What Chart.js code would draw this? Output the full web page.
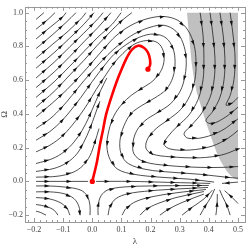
<!DOCTYPE html>
<html>
<head>
<meta charset="utf-8">
<script src="https://cdn.jsdelivr.net/npm/chart.js@4.4.0/dist/chart.umd.min.js"></script>
<style>
html, body { margin: 0; padding: 0; background: #fff; }
</style>
</head>
<body>
<canvas id="streamChart" width="249" height="248"></canvas>
<script>
// tick labels
const xTicks = [-0.2, -0.1, 0.0, 0.1, 0.2, 0.3, 0.4, 0.5];
const yTicks = [-0.2, 0.0, 0.2, 0.4, 0.6, 0.8, 1.0];

// red trajectory (lambda, Omega)
const redPath = [[0.0,0.0],[0.016,0.117],[0.026,0.215],[0.037,0.308],[0.047,0.394],[0.064,0.492],[0.081,0.579],[0.098,0.654],[0.119,0.735],[0.136,0.781],[0.157,0.804],[0.177,0.792],[0.191,0.763],[0.198,0.723],[0.198,0.688],[0.191,0.665]];
const redEnds = [[0.0,0.0],[0.191,0.665]];

// shaded region
const grayRegion = [[0.325,1.0],[0.330,0.9],[0.335,0.809],[0.341,0.70],[0.349,0.607],[0.358,0.53],[0.370,0.463],[0.381,0.40],[0.393,0.336],[0.405,0.275],[0.417,0.215],[0.427,0.17],[0.438,0.129],[0.450,0.092],[0.462,0.060],[0.474,0.037],[0.486,0.019],[0.5,0.008],[0.5,1.0]];

// streamlines (points listed in flow order)
const upperLeftLines = [
  [[-0.193,0.960],[-0.166,1.0]],
  [[-0.193,0.902],[-0.152,0.960],[-0.128,1.0]],
  [[-0.193,0.844],[-0.145,0.913],[-0.104,0.971],[-0.090,1.0]],
  [[-0.193,0.787],[-0.138,0.867],[-0.090,0.942],[-0.056,1.0]],
  [[-0.193,0.729],[-0.138,0.810],[-0.083,0.890],[-0.035,0.971],[-0.022,1.0]],
  [[-0.193,0.671],[-0.131,0.763],[-0.077,0.850],[-0.029,0.931],[0.006,1.0]],
  [[-0.193,0.613],[-0.131,0.706],[-0.077,0.798],[-0.029,0.879],[0.020,0.965],[0.037,1.0]],
  [[-0.193,0.556],[-0.131,0.648],[-0.077,0.740],[-0.029,0.827],[0.020,0.913],[0.064,1.0]],
  [[-0.193,0.498],[-0.131,0.590],[-0.077,0.683],[-0.029,0.769],[0.020,0.856],[0.068,0.931],[0.099,1.0]],
  [[-0.193,0.440],[-0.131,0.533],[-0.077,0.631],[-0.029,0.717],[0.016,0.804],[0.061,0.885],[0.102,0.954],[0.136,1.0]]
];

const vortexLines = [
  [[-0.193,0.383],[-0.138,0.463],[-0.087,0.544],[-0.039,0.631],[0.002,0.711],[0.040,0.787],[0.081,0.862],[0.133,0.925],[0.191,0.965],[0.246,0.977],[0.294,0.954],[0.328,0.896],[0.349,0.810],[0.356,0.706],[0.352,0.602],[0.335,0.509],[0.305,0.429],[0.260,0.365],[0.219,0.313],[0.191,0.256],[0.184,0.198],[0.205,0.163],[0.267,0.146],[0.370,0.140],[0.445,0.157],[0.5,0.192]],
  [[-0.193,0.313],[-0.145,0.371],[-0.104,0.440],[-0.070,0.509],[-0.029,0.596],[0.016,0.683],[0.054,0.752],[0.095,0.815],[0.143,0.873],[0.198,0.913],[0.246,0.925],[0.287,0.890],[0.311,0.821],[0.322,0.729],[0.318,0.625],[0.301,0.533],[0.267,0.458],[0.222,0.406],[0.181,0.360],[0.153,0.302],[0.140,0.233],[0.143,0.163],[0.177,0.117],[0.260,0.094],[0.370,0.083],[0.445,0.083],[0.5,0.088]],
  [[-0.193,0.244],[-0.145,0.296],[-0.104,0.360],[-0.070,0.429],[-0.039,0.498],[-0.001,0.590],[0.040,0.683],[0.074,0.752],[0.116,0.810],[0.164,0.856],[0.212,0.873],[0.253,0.850],[0.277,0.787],[0.284,0.706],[0.277,0.619],[0.253,0.544],[0.212,0.492],[0.170,0.450],[0.133,0.402],[0.109,0.331],[0.095,0.244],[0.099,0.163],[0.123,0.106],[0.184,0.071],[0.274,0.054],[0.370,0.042],[0.459,0.025],[0.5,0.019]],
  [[-0.193,0.175],[-0.145,0.215],[-0.104,0.267],[-0.070,0.331],[-0.042,0.394],[-0.015,0.463],[0.013,0.544],[0.044,0.625],[0.074,0.700],[0.105,0.758],[0.143,0.812],[0.188,0.835],[0.224,0.822],[0.243,0.775],[0.246,0.712],[0.234,0.650],[0.208,0.596],[0.174,0.556],[0.136,0.513],[0.102,0.458],[0.074,0.388],[0.057,0.302],[0.050,0.209],[0.061,0.129],[0.088,0.071],[0.143,0.042],[0.232,0.025],[0.335,0.013],[0.418,-0.004]],
  [[-0.193,0.106],[-0.138,0.134],[-0.097,0.175],[-0.063,0.233],[-0.035,0.302],[-0.011,0.383],[0.009,0.463],[0.030,0.544],[0.050,0.613]],
  [[-0.193,0.059],[-0.131,0.077],[-0.087,0.111],[-0.053,0.163],[-0.029,0.233],[-0.008,0.313],[0.009,0.394],[0.026,0.475]],
  [[-0.193,0.025],[-0.118,0.031],[-0.066,0.054],[-0.032,0.094],[-0.008,0.152],[0.009,0.233],[0.023,0.313]]
];

const hairpinLines = [
  [[0.370,1.0],[0.380,0.867],[0.383,0.729],[0.380,0.602],[0.363,0.486],[0.332,0.394],[0.291,0.325],[0.260,0.267],[0.246,0.221],[0.267,0.192],[0.335,0.186],[0.411,0.209],[0.466,0.256],[0.5,0.302]],
  [[0.404,1.0],[0.414,0.867],[0.421,0.729],[0.418,0.602],[0.404,0.498],[0.376,0.406],[0.342,0.336],[0.315,0.284],[0.328,0.256],[0.383,0.261],[0.445,0.302],[0.5,0.371]],
  [[0.438,1.0],[0.449,0.867],[0.455,0.729],[0.452,0.602],[0.438,0.498],[0.414,0.417],[0.390,0.360],[0.411,0.342],[0.459,0.383],[0.5,0.440]],
  [[0.473,1.0],[0.483,0.867],[0.490,0.729],[0.486,0.602],[0.473,0.509],[0.459,0.452],[0.479,0.463],[0.5,0.498]]
];

const axisLines = [
  [[-0.193,0.0],[-0.111,0.0],[-0.015,0.0]],
  [[0.013,0.0],[0.129,0.0],[0.267,-0.006],[0.405,-0.012]],
  [[0.5,-0.004],[0.473,-0.008],[0.445,-0.012]]
];

const bottomLines = [
  [[-0.193,-0.027],[-0.152,-0.027],[-0.097,-0.033],[-0.042,-0.050],[-0.018,-0.085],[-0.008,-0.143],[-0.008,-0.2]],
  [[-0.193,-0.062],[-0.145,-0.062],[-0.097,-0.073],[-0.063,-0.102],[-0.046,-0.148],[-0.042,-0.2]],
  [[-0.193,-0.096],[-0.152,-0.102],[-0.111,-0.125],[-0.087,-0.160],[-0.077,-0.2]],
  [[-0.193,-0.137],[-0.159,-0.148],[-0.131,-0.171],[-0.118,-0.2]],
  [[-0.193,-0.177],[-0.179,-0.183],[-0.159,-0.2]],
  [[0.020,-0.2],[0.020,-0.143],[0.030,-0.085],[0.054,-0.050],[0.109,-0.033],[0.198,-0.027],[0.301,-0.025],[0.400,-0.024]],
  [[0.054,-0.2],[0.061,-0.148],[0.081,-0.102],[0.123,-0.073],[0.198,-0.056],[0.301,-0.044],[0.397,-0.036]],
  [[0.102,-0.2],[0.116,-0.160],[0.150,-0.119],[0.205,-0.091],[0.287,-0.068],[0.390,-0.048]],
  [[0.164,-0.2],[0.184,-0.166],[0.225,-0.131],[0.287,-0.096],[0.383,-0.060]],
  [[0.232,-0.2],[0.260,-0.166],[0.308,-0.125],[0.383,-0.075]],
  [[0.308,-0.2],[0.342,-0.154],[0.383,-0.104],[0.412,-0.052]],
  [[0.370,-0.2],[0.387,-0.148],[0.407,-0.094],[0.420,-0.045]],
  [[0.424,-0.2],[0.428,-0.143],[0.429,-0.075]],
  [[0.473,-0.2],[0.462,-0.143],[0.447,-0.091],[0.437,-0.050]],
  [[0.5,-0.131],[0.479,-0.094],[0.454,-0.055]]
];

const streamGroups = [upperLeftLines, vortexLines, hairpinLines, axisLines, bottomLines];

const toXY = arr => arr.map(p => ({ x: p[0], y: p[1] }));

const datasets = [];
datasets.push({
  data: toXY(grayRegion),
  showLine: true,
  fill: 'shape',
  backgroundColor: 'rgb(192,192,192)',
  borderWidth: 0,
  pointRadius: 0,
  tension: 0,
  order: 10
});
streamGroups.forEach(group => {
  group.forEach(line => {
    datasets.push({
      data: toXY(line),
      showLine: true,
      fill: false,
      borderColor: '#222',
      borderWidth: 0.8,
      pointRadius: 0,
      tension: 0.35,
      stream: true,
      order: 5
    });
  });
});
datasets.push({
  data: toXY(redPath),
  showLine: true,
  fill: false,
  borderColor: '#ff0000',
  borderWidth: 2.6,
  pointRadius: 0,
  tension: 0.35,
  order: 1
});
datasets.push({
  data: toXY(redEnds),
  showLine: false,
  pointRadius: 2.6,
  pointBackgroundColor: '#ff0000',
  pointBorderWidth: 0,
  order: 0
});

// arrowheads along streamlines
const arrowPlugin = {
  id: 'arrows',
  afterDatasetsDraw: (chart) => {
    const ctx = chart.ctx;
    ctx.save();
    ctx.fillStyle = '#111';
    chart.data.datasets.forEach((ds, i) => {
      if (!ds.stream) return;
      const pts = chart.getDatasetMeta(i).data;
      let next = 11;
      let acc = 0;
      for (let k = 1; k < pts.length; k++) {
        const x0 = pts[k - 1].x, y0 = pts[k - 1].y, x1 = pts[k].x, y1 = pts[k].y;
        const seg = Math.hypot(x1 - x0, y1 - y0);
        while (acc + seg >= next) {
          const t = (next - acc) / seg;
          const ax = x0 + (x1 - x0) * t, ay = y0 + (y1 - y0) * t;
          const a = Math.atan2(y1 - y0, x1 - x0);
          ctx.save();
          ctx.translate(ax, ay);
          ctx.rotate(a);
          ctx.beginPath();
          ctx.moveTo(2.5, 0);
          ctx.lineTo(-2.5, 1.6);
          ctx.lineTo(-2.5, -1.6);
          ctx.closePath();
          ctx.fill();
          ctx.restore();
          next += 22;
        }
        acc += seg;
      }
    });
    ctx.restore();
  }
};

// frame with inward ticks on all sides
const framePlugin = {
  id: 'frame',
  afterDraw: (chart) => {
    const { ctx, chartArea: a, scales } = chart;
    ctx.save();
    ctx.strokeStyle = '#999';
    ctx.lineWidth = 1;
    ctx.strokeRect(Math.round(a.left) + 0.5, Math.round(a.top) + 0.5, Math.round(a.right - a.left), Math.round(a.bottom - a.top));
    ctx.beginPath();
    for (let v = -0.22; v <= 0.52; v += 0.02) {
      const major = Math.abs(v * 10 - Math.round(v * 10)) < 1e-6;
      const len = major ? 4 : 2;
      const x = Math.round(scales.x.getPixelForValue(v)) + 0.5;
      if (x < a.left || x > a.right) continue;
      ctx.moveTo(x, a.bottom); ctx.lineTo(x, a.bottom - len);
      ctx.moveTo(x, a.top); ctx.lineTo(x, a.top + len);
    }
    for (let v = -0.2; v <= 1.05; v += 0.05) {
      const major = Math.abs(v * 5 - Math.round(v * 5)) < 1e-6;
      const len = major ? 4 : 2;
      const y = Math.round(scales.y.getPixelForValue(v)) + 0.5;
      if (y < a.top || y > a.bottom) continue;
      ctx.moveTo(a.left, y); ctx.lineTo(a.left + len, y);
      ctx.moveTo(a.right, y); ctx.lineTo(a.right - len, y);
    }
    ctx.stroke();
    ctx.restore();
  }
};

const fmt = v => (v < 0 ? '\u2212' : '') + Math.abs(v).toFixed(1);
const tickFont = { family: 'Liberation Serif', size: 8 };

new Chart(document.getElementById('streamChart').getContext('2d'), {
  type: 'scatter',
  data: { datasets: datasets },
  options: {
    responsive: false,
    animation: false,
    devicePixelRatio: 1,
    layout: { padding: { top: 1, right: 4, left: 0, bottom: 0 } },
    plugins: { legend: { display: false }, tooltip: { enabled: false } },
    scales: {
      x: {
        type: 'linear',
        min: -0.231,
        max: 0.524,
        afterBuildTicks: s => { s.ticks = xTicks.map(v => ({ value: v })); },
        afterFit: s => { s.height = 26; },
        grid: { display: false, drawTicks: false },
        border: { display: false },
        ticks: { callback: v => fmt(v), font: tickFont, color: '#444', padding: 3, maxRotation: 0, autoSkip: false },
        title: { display: true, text: 'λ', font: { family: 'Liberation Serif', size: 9 }, color: '#444', padding: { top: 0, bottom: 1 } }
      },
      y: {
        type: 'linear',
        min: -0.2406,
        max: 1.0346,
        afterBuildTicks: s => { s.ticks = yTicks.map(v => ({ value: v })); },
        afterFit: s => { s.width = 25; },
        grid: { display: false, drawTicks: false },
        border: { display: false },
        ticks: { callback: v => fmt(v), font: tickFont, color: '#444', padding: 2, autoSkip: false },
        title: { display: true, text: 'Ω', font: { family: 'Liberation Serif', size: 9, lineHeight: 1 }, color: '#444', padding: 0 }
      }
    }
  },
  plugins: [arrowPlugin, framePlugin]
});
</script>
</body>
</html>
